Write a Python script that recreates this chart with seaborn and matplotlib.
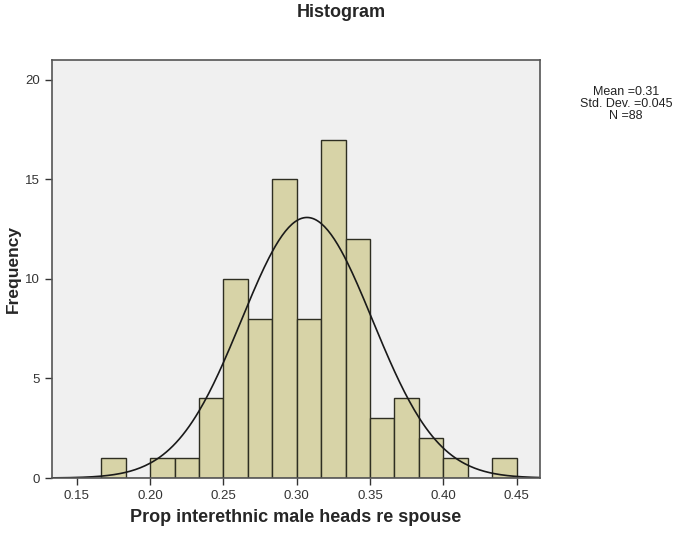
import numpy as np
import pandas as pd
import seaborn as sns
from matplotlib import pyplot as plt

# bin edges (width 1/60) and counts
bin_lo = [10, 11, 12, 13, 14, 15, 16, 17, 18, 19, 20, 21, 22, 23, 24, 25, 26]
counts = [1, 0, 1, 1, 4, 10, 8, 15, 8, 17, 12, 3, 4, 2, 1, 0, 1]
bin_width = 1 / 60

# fitted normal (stats box)
mean_val = 0.307
sd_val = 0.0447
n_total = 88
stats_txt = "Mean =0.31\nStd. Dev. =0.045\nN =88"

xticks = [0.15, 0.20, 0.25, 0.30, 0.35, 0.40, 0.45]
yticks = [0, 5, 10, 15, 20]

sns.set_theme(style="white")
plt.rcParams['font.family'] = ['Liberation Sans', 'DejaVu Sans']

edges = [(b * bin_width) for b in bin_lo + [bin_lo[-1] + 1]]
df = pd.DataFrame({'x': (np.array(bin_lo) + 0.5) * bin_width, 'n': counts})

fig = plt.figure(figsize=(6.76, 5.36), dpi=100)
ax = fig.add_axes([0.0769, 0.1082, 0.7219, 0.7798])
ax.set_facecolor('#f0f0f0')

sns.histplot(data=df, x='x', weights='n', bins=edges, ax=ax,
             color='#d7d3a7', alpha=1, edgecolor='#2e2e22', linewidth=1)

# normal curve scaled to counts
xs = np.linspace(0.133, 0.466, 300)
ys = n_total * bin_width * np.exp(-0.5 * ((xs - mean_val) / sd_val) ** 2) / (sd_val * np.sqrt(2 * np.pi))
sns.lineplot(x=xs, y=ys, ax=ax, color='#1a1a1a', linewidth=1.2)

ax.set_xlim(0.133, 0.466)
ax.set_ylim(0, 21)
ax.set_xticks(xticks)
ax.set_xticklabels([f"{t:.2f}" for t in xticks])
ax.set_yticks(yticks)
ax.tick_params(axis='both', direction='out', length=5, width=1, color='#333333',
               labelsize=9.5, labelcolor='#333333', bottom=True, left=True)
for s in ax.spines.values():
    s.set_color('#555555')
    s.set_linewidth(1.2)

ax.set_xlabel('Prop interethnic male heads re spouse', fontsize=13, fontweight='bold', labelpad=5)
ax.set_ylabel('Frequency', fontsize=12.5, fontweight='bold', labelpad=3)
fig.text(0.505, 0.977, 'Histogram', ha='center', va='center', fontsize=13, fontweight='bold')
fig.text(0.926, 0.806, stats_txt, ha='center', va='center', fontsize=9,
         linespacing=0.95, color='#222222')

fig.savefig('out.png', dpi=100)
